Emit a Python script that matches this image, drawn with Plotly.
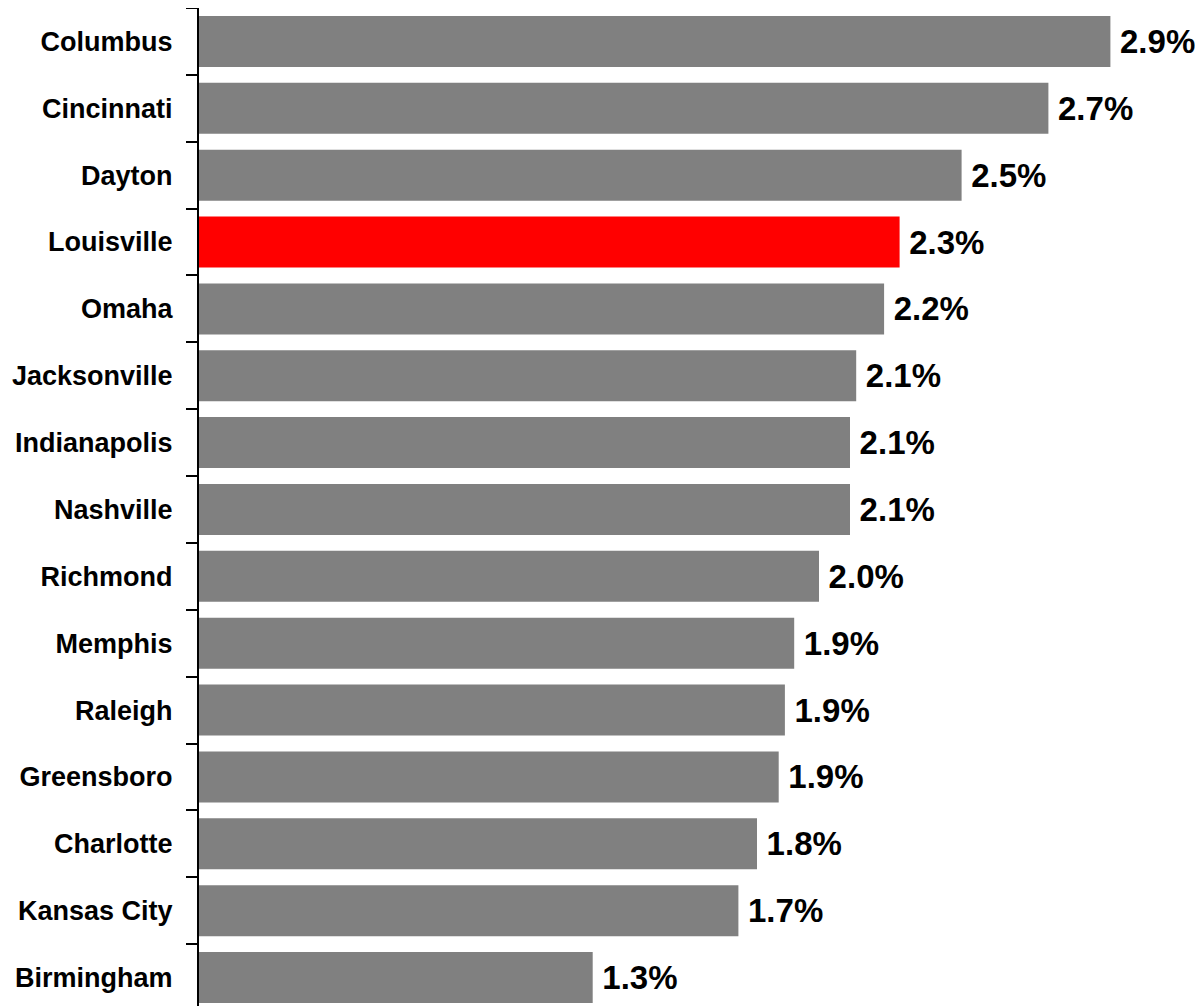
import plotly.graph_objects as go

cities = ["Columbus", "Cincinnati", "Dayton", "Louisville", "Omaha", "Jacksonville",
          "Indianapolis", "Nashville", "Richmond", "Memphis", "Raleigh", "Greensboro",
          "Charlotte", "Kansas City", "Birmingham"]
values = [2.94, 2.74, 2.46, 2.26, 2.21, 2.12, 2.10, 2.10, 2.00, 1.92, 1.89, 1.87, 1.80, 1.74, 1.27]
highlight = "Louisville"

colors = ["#FF0000" if c == highlight else "#808080" for c in cities]

FONT = "Arial, 'Liberation Sans', sans-serif"

fig = go.Figure(go.Bar(
    x=values,
    y=cities,
    orientation="h",
    marker=dict(color=colors, line=dict(width=0)),
    texttemplate="\u2009%{x:.1f}%",
    textposition="outside",
    textfont=dict(family=FONT, size=33, color="#000000", weight="bold"),
    cliponaxis=False,
    constraintext="none",
    hoverinfo="skip",
))

fig.update_layout(
    width=1195,
    height=998,
    margin=dict(l=191, r=0, t=0, b=0),
    paper_bgcolor="#FFFFFF",
    plot_bgcolor="#FFFFFF",
    bargap=0.237,
    showlegend=False,
    font=dict(family=FONT, color="#000000"),
)

fig.update_xaxes(visible=False, range=[0, 1004 / 310])
fig.update_yaxes(
    type="category",
    categoryorder="array",
    categoryarray=cities,
    range=[14.426, -0.5],
    showline=True,
    linecolor="#000000",
    linewidth=2,
    ticks="outside",
    tickson="boundaries",
    ticklen=11,
    tickwidth=2,
    tickcolor="#000000",
    ticklabelstandoff=19,
    showgrid=False,
    zeroline=False,
    tickfont=dict(family=FONT, size=27, color="#000000", weight="bold"),
)

fig.write_html("out.html")
